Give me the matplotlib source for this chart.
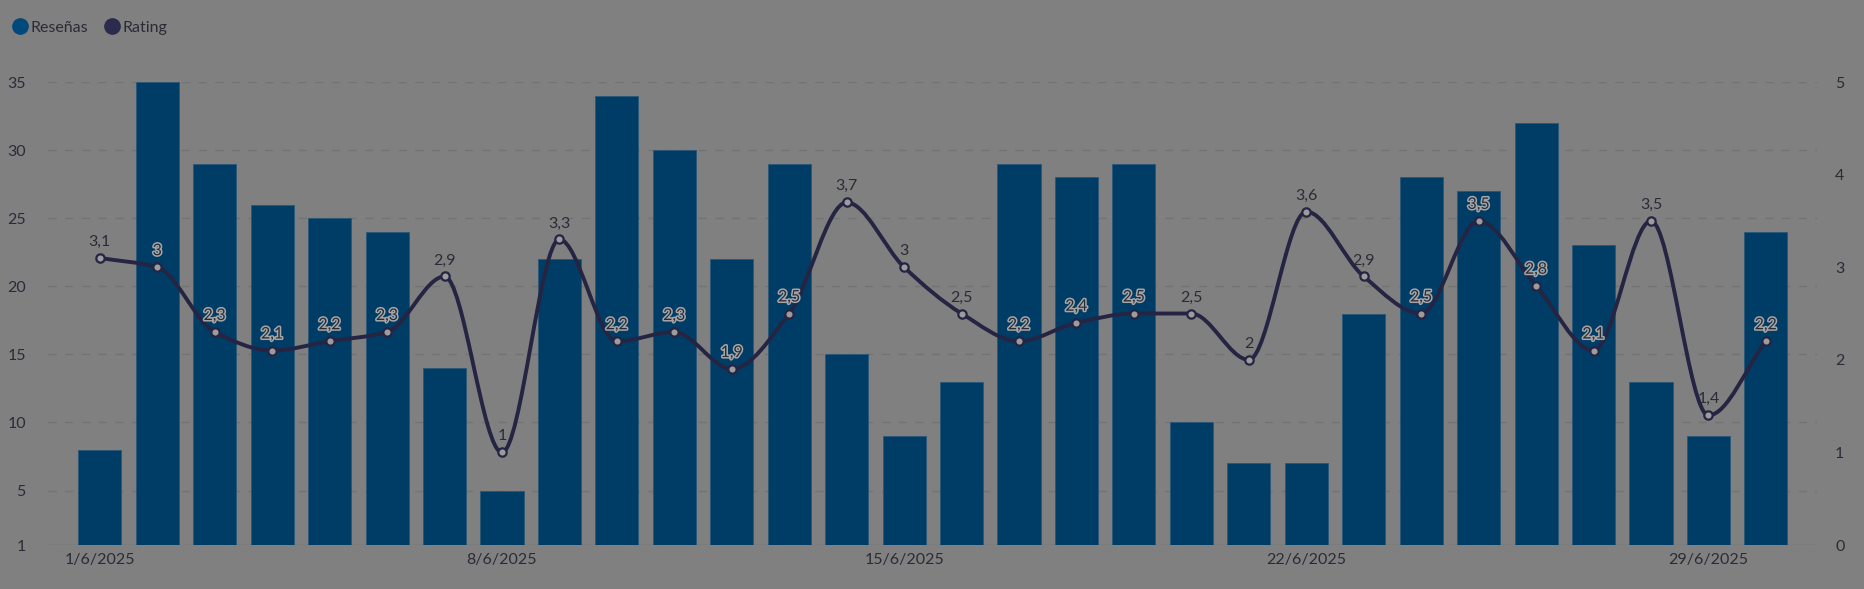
import numpy as np
import matplotlib.pyplot as plt
import matplotlib.patheffects as pe
from matplotlib.path import Path
from matplotlib.patches import PathPatch
from matplotlib.lines import Line2D

plt.rcParams['font.family'] = ['Lato', 'DejaVu Sans']

dias = [f"{d}/6/2025" for d in range(1, 31)]
resenas = [8, 35, 29, 26, 25, 24, 14, 5, 22, 34, 30, 22, 29, 15, 9,
           13, 29, 28, 29, 10, 7, 7, 18, 28, 27, 32, 23, 13, 9, 24]
rating = [3.1, 3, 2.3, 2.1, 2.2, 2.3, 2.9, 1, 3.3, 2.2, 2.3, 1.9, 2.5, 3.7, 3,
          2.5, 2.2, 2.4, 2.5, 2.5, 2, 3.6, 2.9, 2.5, 3.5, 2.8, 2.1, 3.5, 1.4, 2.2]
xtick_idx = [0, 7, 14, 21, 28]
left_ticks = [1, 5, 10, 15, 20, 25, 30, 35]
right_ticks = [0, 1, 2, 3, 4, 5]

bg = '#808080'
bar_c = '#003d66'
line_c = '#252443'
txt_c = '#2b2b38'

fig = plt.figure(figsize=(18.64, 5.89), dpi=100, facecolor=bg)
ax = fig.add_axes([0.0258, 0.0747, 0.949, 0.786])
ax.set_facecolor(bg)
x = np.arange(len(dias))

ax.bar(x, resenas, width=0.75, color=bar_c, edgecolor='#2a5678', linewidth=0.6, zorder=2)
ax.set_xlim(-0.9, len(dias) - 0.11)
ax.set_ylim(1, 35)
ax.set_yticks(left_ticks)
ax.grid(axis='y', color='#737373', linestyle=(0, (6, 6)), linewidth=1, zorder=0)
ax.axhline(1, color='#747474', linewidth=1, zorder=1)
ax.set_xticks(xtick_idx)
ax.set_xticklabels([dias[i] for i in xtick_idx])
for s in ax.spines.values():
    s.set_visible(False)
ax.tick_params(length=0, labelsize=11.5, labelcolor=txt_c)
ax.tick_params(axis='y', pad=16)
ax.tick_params(axis='x', pad=6)

ax2 = ax.twinx()
ax2.set_ylim(0, 5)
ax2.set_yticks(right_ticks)
for s in ax2.spines.values():
    s.set_visible(False)
ax2.tick_params(length=0, labelsize=11.5, labelcolor=txt_c, pad=13)

# smooth (monotone cubic) path through the rating points
xs = x.astype(float)
ys = np.array(rating, dtype=float)
h = np.diff(xs)
d = np.diff(ys) / h
m = np.zeros_like(ys)
m[0], m[-1] = d[0], d[-1]
for i in range(1, len(ys) - 1):
    if d[i - 1] * d[i] > 0:
        m[i] = 2 / (1 / d[i - 1] + 1 / d[i])
verts = [(xs[0], ys[0])]
codes = [Path.MOVETO]
for i in range(len(xs) - 1):
    verts += [(xs[i] + h[i] / 3, ys[i] + m[i] * h[i] / 3),
              (xs[i + 1] - h[i] / 3, ys[i + 1] - m[i + 1] * h[i] / 3),
              (xs[i + 1], ys[i + 1])]
    codes += [Path.CURVE4] * 3
ax2.add_patch(PathPatch(Path(verts, codes), facecolor='none', edgecolor=line_c,
                        linewidth=2.8, zorder=3))
ax2.plot(xs, ys, linestyle='none', marker='o', markersize=6, markerfacecolor='#9c9c9c',
         markeredgecolor=line_c, markeredgewidth=1.6, zorder=4)

for i, r in enumerate(rating):
    lab = f"{r:g}".replace('.', ',')
    t = ax2.annotate(lab, (i, r), xytext=(0, 6.5), textcoords='offset points',
                     ha='center', va='bottom', fontsize=11.5, color=txt_c, zorder=5)
    if resenas[i] > 1 + r * 6.8 + 1.5:
        t.set_path_effects([pe.withStroke(linewidth=2.2, foreground='#a6a6a6')])

handles = [Line2D([], [], linestyle='none', marker='o', markersize=11, color='#00497a'),
           Line2D([], [], linestyle='none', marker='o', markersize=11, color='#2b2a4f')]
fig.legend(handles, ['Reseñas', 'Rating'], loc='upper left', bbox_to_anchor=(-0.003, 0.995),
           ncol=2, frameon=False, fontsize=11.5, labelcolor=txt_c, handletextpad=0.15,
           columnspacing=1.0, borderaxespad=0.7, handlelength=1.0)

fig.savefig('out.png', dpi=100, facecolor=bg)
